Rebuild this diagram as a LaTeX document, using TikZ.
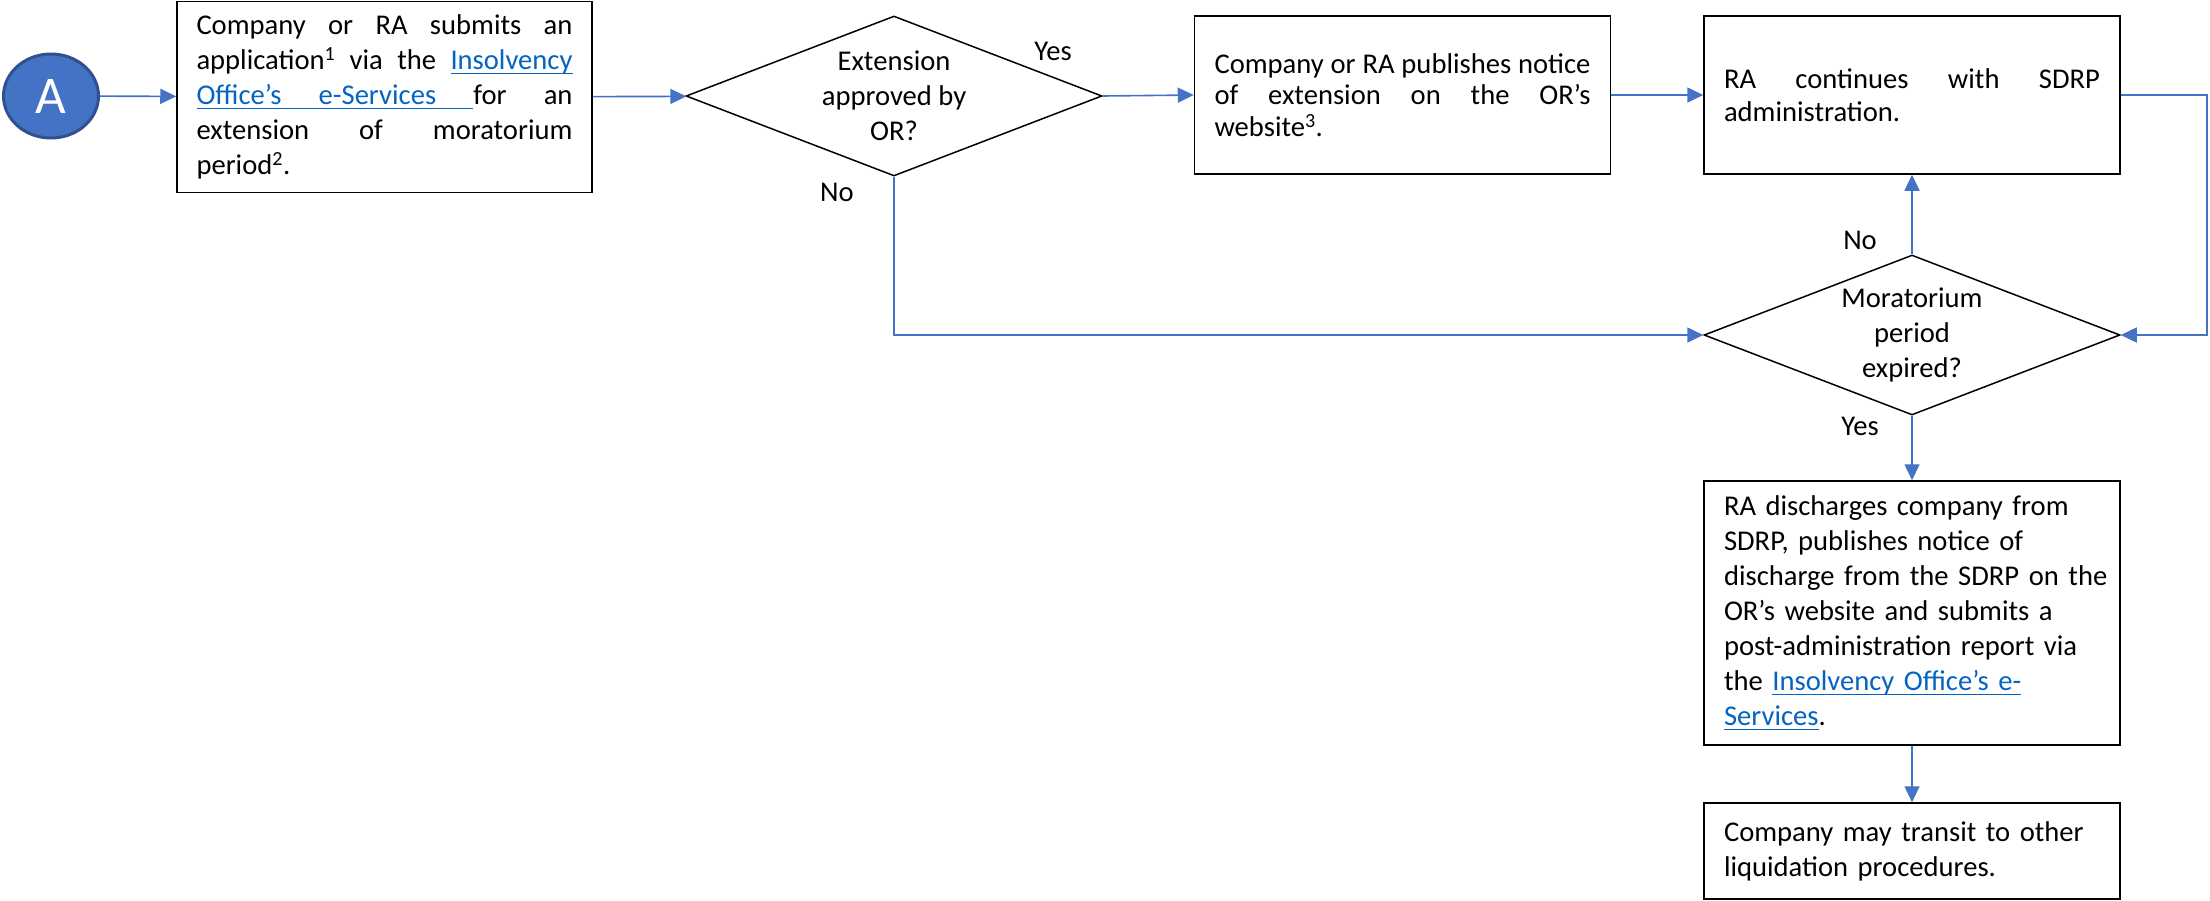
\documentclass[tikz,border=0pt]{standalone}
\usepackage{fontspec}
\setmainfont{Carlito}
\usetikzlibrary{shapes.geometric,arrows.meta}
\definecolor{flowblue}{HTML}{4472C4}
\definecolor{ringblue}{HTML}{2F528F}
\definecolor{linkblue}{HTML}{0563C1}
\newcommand{\lnk}[1]{\textcolor{linkblue}{\setbox0\hbox{#1}\rlap{\rule[-4.8pt]{\wd0}{1.8pt}}\box0}}
\newcommand{\lnksp}{{\color{linkblue}\leaders\hrule height -3pt depth 4.8pt\hskip\fontdimen2\font plus\fontdimen3\font minus\fontdimen4\font}}
\tikzset{
  stepbox/.style={draw=black, line width=1.5pt, rectangle, inner sep=0pt,
    text width=376pt, minimum width=416pt, minimum height=158pt,
    font=\fontsize{28.6}{35}\selectfont},
  decision/.style={diamond, draw=black, line width=1.5pt, aspect=2.6, inner sep=0pt,
    minimum width=416pt, minimum height=160pt, align=center,
    font=\fontsize{28.6}{35}\selectfont},
  startnode/.style={ellipse, draw=ringblue, line width=3pt, fill=flowblue, inner sep=0pt,
    minimum width=95pt, minimum height=84pt, text=white, font=\fontsize{53}{60}\selectfont},
  flow/.style={draw=flowblue, line width=1.6pt, -{Triangle[length=16pt,width=15pt]}},
  lbl/.style={inner sep=0pt, font=\fontsize{28.6}{35}\selectfont}
}
\begin{document}
\begin{tikzpicture}[x=1pt,y=-1pt]
\useasboundingbox (0,0) rectangle (2210,900);
%put nodes
%start
\node[startnode] (A) at (51,96) {A};
%top row
\node[stepbox, minimum width=415pt, minimum height=191pt, align=justify] (apply) at (384.5,97) {Company or RA submits an\linebreak application\textsuperscript{1} via the \lnk{Insolvency}\linebreak \lnk{Office’s}\lnksp\lnk{e-Services}\lnksp for an\linebreak extension of moratorium\linebreak period\textsuperscript{2}.};
\node[decision] (approved) at (894,96) {Extension\\approved by\\OR?};
\node[stepbox, align=justify, font=\fontsize{28.6}{31.7}\selectfont] (notice) at (1402.5,95) {Company or RA publishes notice\linebreak of extension on the OR’s\linebreak website\textsuperscript{3}.};
\node[stepbox, align=justify, font=\fontsize{28.6}{33}\selectfont] (continue) at (1912,95) {RA continues with SDRP\linebreak administration.};
%right column
\node[decision] (expired) at (1912,335) {Moratorium\\period\\expired?};
\node[stepbox, align=left, minimum height=264pt] (discharge) at (1912,613) {RA discharges company from\\SDRP, publishes notice of\\\mbox{discharge from the SDRP on the}\\OR’s website and submits a\\post-administration report via\\the \lnk{Insolvency Office’s e-}\\\lnk{Services}.};
\node[stepbox, align=left, minimum height=96pt] (transit) at (1912,851) {Company may transit to other\\liquidation procedures.};
\coordinate (rturn) at (2207,0);
%labels
\node[lbl] (yes1) at (1053,51) {Yes};
\node[lbl] (no1) at (837,192) {No};
\node[lbl] (no2) at (1860,240) {No};
\node[lbl] (yes2) at (1860,426) {Yes};

%plot the connectors
\draw[flow] (A) -- (apply);
\draw[flow] (apply) -- (approved);
\draw[flow] (approved.east) -- (notice.west);
\draw[flow] (notice) -- (continue);
\draw[flow] (continue.east) -| (rturn |- expired.east) -- (expired.east);
\draw[flow] (approved.south) |- (expired.west);
\draw[flow] (expired.north) -- (continue.south);
\draw[flow] (expired.south) -- (discharge.north);
\draw[flow] (discharge.south) -- (transit.north);
\end{tikzpicture}
\end{document}
